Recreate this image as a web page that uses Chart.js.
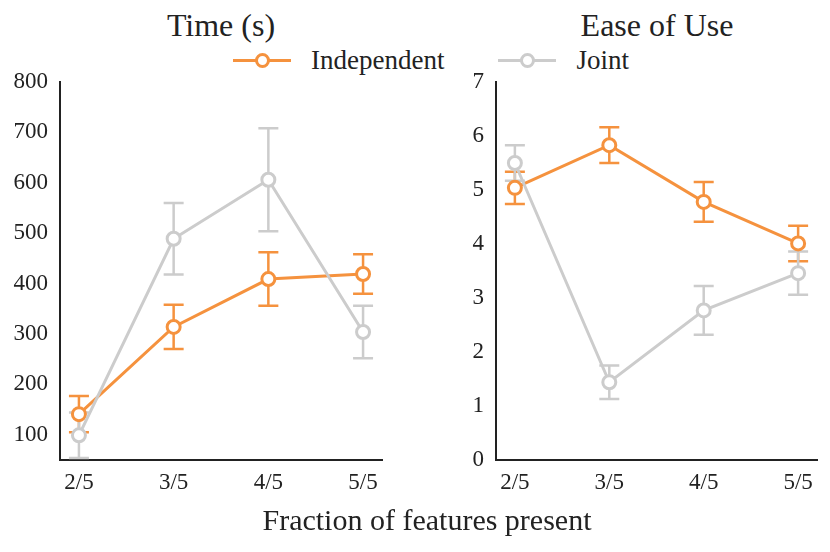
<!DOCTYPE html>
<html lang="en">
<head>
    <meta charset="UTF-8">
    <title>Time and Ease of Use</title>
    <script src="https://cdn.jsdelivr.net/npm/chart.js"></script>
    <style>
        body {
            margin: 0;
            background: #fff;
            font-family: "Liberation Serif", "Times New Roman", Tinos, Times, "DejaVu Serif", serif;
            color: #222;
        }
        .wrap {
            position: relative;
            width: 830px;
            height: 552px;
        }
        .wrap canvas {
            position: absolute;
            top: 0;
        }
        .title {
            position: absolute;
            top: 7px;
            font-size: 32px;
            text-align: center;
            width: 322px;
        }
        .legend {
            position: absolute;
            top: 45px;
            font-size: 27px;
            display: flex;
            align-items: center;
            white-space: nowrap;
        }
        .legend .mark {
            position: relative;
            width: 58px;
            height: 3px;
            margin-right: 20px;
        }
        .legend .mark span {
            position: absolute;
            left: 22px;
            top: -6px;
            width: 9px;
            height: 9px;
            border-radius: 50%;
            background: #fff;
            border: 3px solid;
        }
        .xtitle {
            position: absolute;
            top: 503px;
            left: 0;
            width: 854px;
            text-align: center;
            font-size: 30px;
        }
    </style>
</head>
<body>
<div class="wrap">
    <div class="title" style="left:60px">Time (s)</div>
    <div class="title" style="left:496px">Ease of Use</div>
    <div class="legend" style="left:233px">
        <div class="mark" style="background:#F5923E"><span style="border-color:#F5923E"></span></div>
        <div style="margin-right:54px">Independent</div>
        <div class="mark" style="background:#CCCCCC"><span style="border-color:#CCCCCC"></span></div>
        <div>Joint</div>
    </div>
    <canvas id="timeChart" width="415" height="552" style="left:0"></canvas>
    <canvas id="easeChart" width="415" height="552" style="left:415px"></canvas>
    <div class="xtitle">Fraction of features present</div>
</div>

<script>
    var categories = ['2/5', '3/5', '4/5', '5/5'];

    // Time (s)
    var timeIndependent = [141, 314, 409, 419];
    var timeIndependentErr = [36, 44, 53, 39];
    var timeJoint = [99, 489, 606, 304];
    var timeJointErr = [45, 71, 102, 52];
    var timeTicks = [100, 200, 300, 400, 500, 600, 700, 800];

    // Ease of Use
    var easeIndependent = [5.04, 5.83, 4.78, 4.01];
    var easeIndependentErr = [0.3, 0.33, 0.37, 0.33];
    var easeJoint = [5.5, 1.44, 2.77, 3.46];
    var easeJointErr = [0.33, 0.31, 0.45, 0.4];
    var easeTicks = [0, 1, 2, 3, 4, 5, 6, 7];

    var orange = '#F5923E';
    var grey = '#CCCCCC';
    var fontFamily = '"Liberation Serif", "Times New Roman", Tinos, Times, "DejaVu Serif", serif';

    function points(values) {
        return values.map(function (v, i) { return { x: i, y: v }; });
    }

    // draws the vertical error bars with caps, behind the markers
    var errorBars = {
        id: 'errorBars',
        beforeDatasetsDraw: function (chart) {
            var ctx = chart.ctx;
            var xs = chart.scales.x, ys = chart.scales.y;
            chart.data.datasets.forEach(function (ds) {
                ctx.save();
                ctx.strokeStyle = ds.borderColor;
                ctx.lineWidth = 2.5;
                ds.data.forEach(function (p, i) {
                    var e = ds.errors[i];
                    var x = xs.getPixelForValue(p.x);
                    var top = ys.getPixelForValue(p.y + e);
                    var bot = ys.getPixelForValue(p.y - e);
                    ctx.beginPath();
                    ctx.moveTo(x, top);
                    ctx.lineTo(x, bot);
                    ctx.moveTo(x - 10, top);
                    ctx.lineTo(x + 10, top);
                    ctx.moveTo(x - 10, bot);
                    ctx.lineTo(x + 10, bot);
                    ctx.stroke();
                });
                ctx.restore();
            });
        }
    };

    function makeChart(id, indep, indepErr, joint, jointErr, yMin, yMax, yTicks, yWidth, rightPad) {
        var ctx = document.getElementById(id).getContext('2d');
        return new Chart(ctx, {
            type: 'line',
            data: {
                datasets: [{
                    label: 'Independent',
                    data: points(indep),
                    errors: indepErr,
                    borderColor: orange,
                    pointBorderColor: orange,
                    order: 1
                }, {
                    label: 'Joint',
                    data: points(joint),
                    errors: jointErr,
                    borderColor: grey,
                    pointBorderColor: grey,
                    order: 0
                }]
            },
            options: {
                responsive: false,
                animation: false,
                layout: { padding: { top: 82, right: rightPad, left: 0, bottom: 0 } },
                elements: {
                    line: { borderWidth: 3, tension: 0 },
                    point: { radius: 6.5, borderWidth: 3, backgroundColor: '#fff', hoverRadius: 6.5 }
                },
                datasets: { line: { clip: false } },
                plugins: {
                    legend: { display: false },
                    title: { display: false },
                    tooltip: { enabled: false }
                },
                scales: {
                    x: {
                        type: 'linear',
                        min: -0.2,
                        max: 3.2,
                        grid: { display: false, drawTicks: false },
                        border: { display: true, color: '#222', width: 2 },
                        afterBuildTicks: function (scale) {
                            scale.ticks = categories.map(function (c, i) { return { value: i }; });
                        },
                        afterFit: function (scale) { scale.height = 92; },
                        ticks: {
                            padding: 9,
                            color: '#222',
                            font: { family: fontFamily, size: 23 },
                            callback: function (v) { return categories[v]; }
                        }
                    },
                    y: {
                        min: yMin,
                        max: yMax,
                        grid: { display: false, drawTicks: false },
                        border: { display: true, color: '#222', width: 2 },
                        afterBuildTicks: function (scale) {
                            scale.ticks = yTicks.map(function (v) { return { value: v }; });
                        },
                        afterFit: function (scale) { scale.width = yWidth; },
                        ticks: {
                            padding: 12,
                            color: '#222',
                            font: { family: fontFamily, size: 23 }
                        }
                    }
                }
            },
            plugins: [errorBars]
        });
    }

    makeChart('timeChart', timeIndependent, timeIndependentErr, timeJoint, timeJointErr,
        50, 800, timeTicks, 60, 33);
    makeChart('easeChart', easeIndependent, easeIndependentErr, easeJoint, easeJointErr,
        0, 7, easeTicks, 81, 13);
</script>
</body>
</html>
